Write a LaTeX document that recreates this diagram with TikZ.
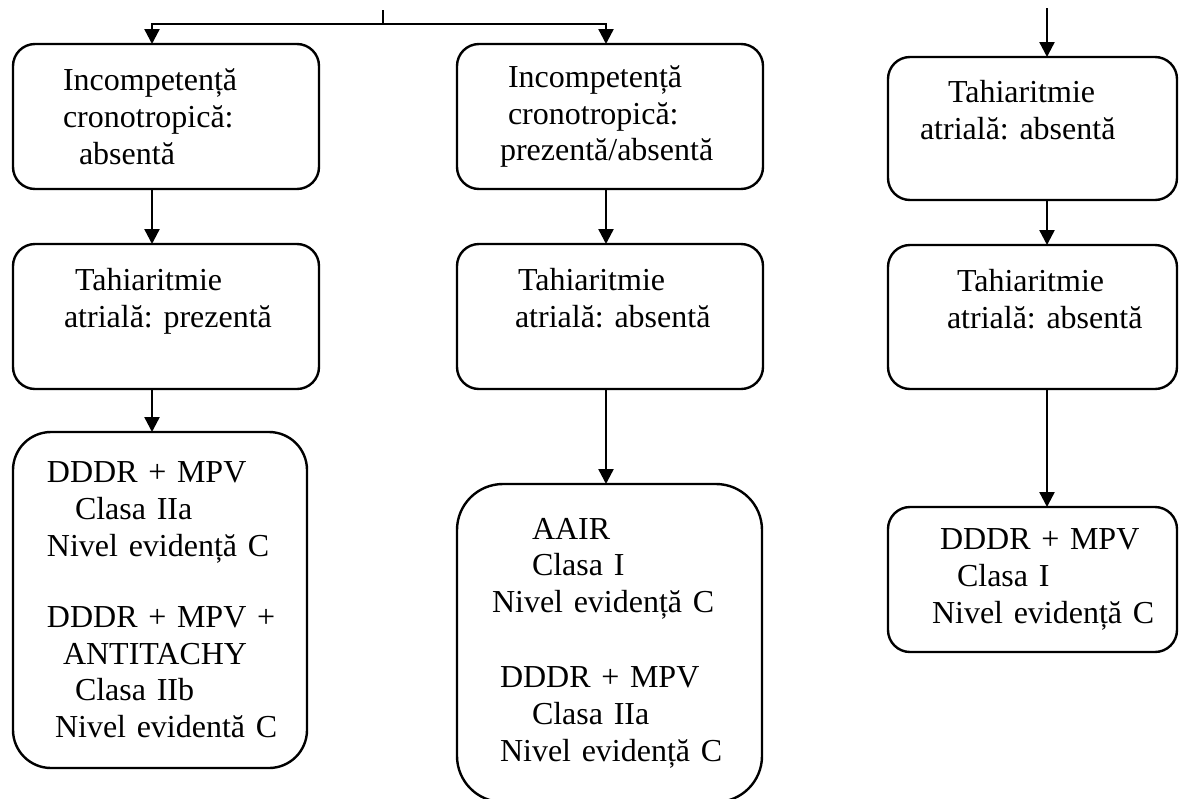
\documentclass[tikz,border=0pt]{standalone}
\usepackage{fontspec}
\setmainfont{Liberation Serif}
\usetikzlibrary{arrows.meta}

\newcommand{\ind}[1]{\hspace*{#1pt}}
\newcommand{\boxfont}{\fontsize{16}{18.4}\selectfont\frenchspacing\spaceskip=0.2em\relax}

\begin{document}
\begin{tikzpicture}[x=0.5pt, y=-0.5pt,
            font=\boxfont,
            line width=1.2pt,
            box/.style={draw, rounded corners=11pt, anchor=north west,
                        inner sep=0pt, outer sep=0pt, align=left},
            arr/.style={-{Triangle[length=7.5pt,width=7.5pt]}},
            ]
    \useasboundingbox (0,0) rectangle (1182,798);

    % column axes for the arrows
    \coordinate (cl) at (152,0);
    \coordinate (cm) at (606,0);
    \coordinate (cr) at (1047,0);
    \coordinate (top) at (383,10);
    \coordinate (split) at (383,24);
    \coordinate (rtop) at (1047,8);

    % left column
    \node[box, text width=153pt, minimum height=72.5pt] (inc1) at (13,44)
        {\ind{25}Incompetență\\ \ind{25}cronotropică:\\ \ind{33}absentă};
    \node[box, text width=153pt, minimum height=72.5pt] (tah1) at (13,244)
        {\ind{31}Tahiaritmie\\ \ind{25.5}atrială: prezentă\\ \mbox{}};
    \node[box, rounded corners=19pt, text width=147pt, minimum height=168pt] (rec1) at (13,432)
        {\ind{17}DDDR + MPV\\ \ind{31}Clasa IIa\\ \ind{17}Nivel evidență C\\[17pt]
         \ind{17}DDDR + MPV +\\ \ind{25}ANTITACHY\\ \ind{31}Clasa IIb\\ \ind{21}Nivel evidentă C};

    % middle column
    \node[box, text width=153pt, minimum height=72.5pt] (inc2) at (457,44)
        {\ind{25.5}Incompetență\\ \ind{25.5}cronotropică:\\ \ind{21.5}prezentă/absentă};
    \node[box, text width=153pt, minimum height=72.5pt] (tah2) at (457,244)
        {\ind{30.5}Tahiaritmie\\ \ind{29}atrială: absentă\\ \mbox{}};
    \node[box, rounded corners=23pt, text width=152.5pt, minimum height=159pt] (rec2) at (457,484)
        {\ind{37.5}AAIR\\ \ind{37.5}Clasa I\\ \ind{17.5}Nivel evidență C\\[19pt]
         \ind{21.5}DDDR + MPV\\ \ind{37.5}Clasa IIa\\ \ind{21.5}Nivel evidență C};

    % right column
    \node[box, text width=144.5pt, minimum height=71.5pt] (tah3) at (888,57)
        {\ind{30}Tahiaritmie\\ \ind{16}atrială: absentă\\ \mbox{}};
    \node[box, text width=144.5pt, minimum height=72pt] (tah4) at (888,245)
        {\ind{34.5}Tahiaritmie\\ \ind{29.5}atrială: absentă\\ \mbox{}};
    \node[box, text width=144.5pt, minimum height=72.5pt] (rec3) at (888,507)
        {\ind{26}DDDR + MPV\\ \ind{34.5}Clasa I\\ \ind{22}Nivel evidență C};

    % arrows
    \draw (top) -- (split);
    \draw[arr] (split) -| (inc1.north -| cl);
    \draw[arr] (split) -| (inc2.north -| cm);
    \draw[arr] (inc1.south -| cl) -- (tah1.north -| cl);
    \draw[arr] (tah1.south -| cl) -- (rec1.north -| cl);
    \draw[arr] (inc2.south -| cm) -- (tah2.north -| cm);
    \draw[arr] (tah2.south -| cm) -- (rec2.north -| cm);
    \draw[arr] (rtop) -- (tah3.north -| cr);
    \draw[arr] (tah3.south -| cr) -- (tah4.north -| cr);
    \draw[arr] (tah4.south -| cr) -- (rec3.north -| cr);
\end{tikzpicture}
\end{document}
